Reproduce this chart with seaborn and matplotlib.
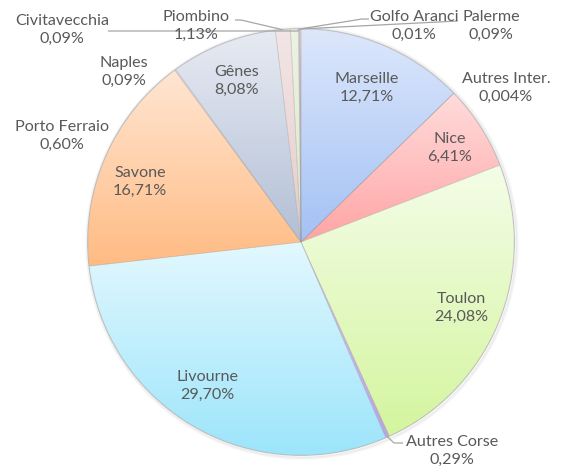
import numpy as np
import matplotlib
matplotlib.use("Agg")
import matplotlib.pyplot as plt
from matplotlib.colors import LinearSegmentedColormap
from matplotlib.patches import Circle
import seaborn as sns

sns.set_theme(style="white")
plt.rcParams['font.family'] = ['Lato', 'DejaVu Sans']

# ---- data (clockwise from 12 o'clock) ----
ports = ["Marseille", "Autres Inter.", "Nice", "Toulon", "Autres Corse", "Livourne",
         "Savone", "Naples", "Gênes", "Piombino", "Porto Ferraio", "Civitavecchia",
         "Golfo Aranci", "Palerme"]
shares = [12.71, 0.004, 6.41, 24.08, 0.29, 29.70,
          16.71, 0.09, 8.08, 1.13, 0.60, 0.09,
          0.01, 0.09]
share_labels = ["12,71%", "0,004%", "6,41%", "24,08%", "0,29%", "29,70%",
                "16,71%", "0,09%", "8,08%", "1,13%", "0,60%", "0,09%",
                "0,01%", "0,09%"]

# ---- style: gradient (top, bottom) colours per slice ----
grad = {
    "Marseille": ("#DDE7FB", "#A3C1F5"),
    "Autres Inter.": ("#E6DDF5", "#C9B8EA"),
    "Nice": ("#FFDCDC", "#FFA4A4"),
    "Toulon": ("#F4FDE8", "#D4F59E"),
    "Autres Corse": ("#D6CAF0", "#B9A5E2"),
    "Livourne": ("#E3F8FE", "#9CE5FB"),
    "Savone": ("#FFE6D3", "#FFBB83"),
    "Naples": ("#F0E0E0", "#E2C4C4"),
    "Gênes": ("#E7EBF3", "#B3BFD6"),
    "Piombino": ("#F3E6E6", "#E6CBCB"),
    "Porto Ferraio": ("#EDF3E4", "#D9E8C6"),
    "Civitavecchia": ("#E9E2F2", "#D3C6E6"),
    "Golfo Aranci": ("#E0F1F6", "#C2E3EE"),
    "Palerme": ("#FBD9D0", "#F2B6A6"),
}

# label block centres (pixel coords, y from top)
label_pos = {
    "Civitavecchia": (62, 30), "Piombino": (196, 26), "Golfo Aranci": (414, 26),
    "Palerme": (491, 26), "Naples": (124, 72), "Gênes": (237, 81),
    "Marseille": (367, 88), "Autres Inter.": (506, 88), "Porto Ferraio": (62, 136),
    "Nice": (450, 148), "Savone": (140, 182), "Toulon": (461, 308),
    "Livourne": (207, 386), "Autres Corse": (452, 451),
}

W, H = 566, 470
fig = plt.figure(figsize=(W / 100, H / 100), dpi=100)
ax = fig.add_axes([0, 0, 1, 1])
ax.set_xlim(0, W)
ax.set_ylim(0, H)
ax.set_aspect('equal')
ax.axis('off')

cx, cy, R = 301, H - 242, 213

# soft shadow / rim
for i, a in enumerate([0.05, 0.07, 0.10]):
    ax.add_patch(Circle((cx + 1, cy - 1), R + 3 - i, facecolor='none',
                        edgecolor='#808080', lw=1.2, alpha=a, zorder=0))
ax.add_patch(Circle((cx, cy), R + 0.3, facecolor='white', edgecolor='#C4C4C4',
                    lw=0.9, zorder=0.5))

wedges, _ = ax.pie(shares, startangle=90, counterclock=False, center=(cx, cy),
                   radius=R, colors=['none'] * len(shares),
                   wedgeprops=dict(edgecolor=(0.55, 0.55, 0.55, 0.25), linewidth=0.5))
ax.set_xlim(0, W)
ax.set_ylim(0, H)

for w, name in zip(wedges, ports):
    w.set_zorder(3)
    top, bot = grad[name]
    cmap = LinearSegmentedColormap.from_list(name, [bot, top])
    bb = w.get_path().get_extents()
    img = np.linspace(0, 1, 256).reshape(-1, 1)
    im = ax.imshow(img, cmap=cmap, origin='lower', aspect='auto',
                   extent=[bb.x0 - 1, bb.x1 + 1, bb.y0 - 1, bb.y1 + 1],
                   interpolation='bilinear', zorder=2)
    im.set_clip_path(w)

ax.set_xlim(0, W)
ax.set_ylim(0, H)

txt_color = '#595959'
for name, lab in zip(ports, share_labels):
    x, y = label_pos[name]
    ax.text(x, H - y, f"{name}\n{lab}", ha='center', va='center', fontsize=11.6,
            color=txt_color, linespacing=1.42, zorder=5)

# leader lines
def edge_point(name, frac=1.0):
    w = wedges[ports.index(name)]
    th = np.deg2rad((w.theta1 + w.theta2) / 2)
    return cx + R * frac * np.cos(th), cy + R * frac * np.sin(th)

lc = '#A6A6A6'
def leader(name, pts):
    x0, y0 = edge_point(name)
    xs = [x0] + [p[0] for p in pts]
    ys = [y0] + [H - p[1] for p in pts]
    ax.plot(xs, ys, color=lc, lw=0.9, zorder=4, solid_capstyle='butt')

leader("Civitavecchia", [(298, 31), (108, 31)])
leader("Piombino", [(241, 20), (235, 20)])
leader("Golfo Aranci", [(362, 19), (369, 19)])
leader("Palerme", [(458, 21)])
leader("Autres Corse", [(394, 443), (403, 443)])

fig.savefig("out.png", dpi=100)
